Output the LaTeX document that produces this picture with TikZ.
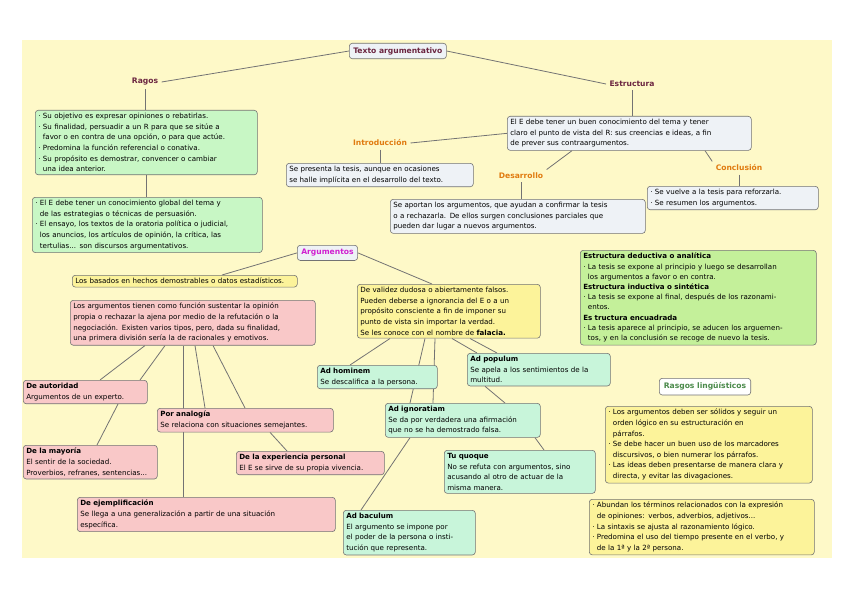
\documentclass[tikz,border=0pt]{standalone}
\usepackage{fontspec}
\setmainfont{DejaVu Sans}
\usetikzlibrary{calc,backgrounds}
\definecolor{bg}{HTML}{FEF9C8}
\definecolor{grn}{HTML}{C8F7C5}
\definecolor{blu}{HTML}{EEF2F6}
\definecolor{pnk}{HTML}{F9C8C8}
\definecolor{ylw}{HTML}{FCF39A}
\definecolor{sgrn}{HTML}{C4F09A}
\definecolor{mnt}{HTML}{C8F5DA}
\definecolor{ttl}{HTML}{6B2540}
\definecolor{org}{HTML}{E07B10}
\definecolor{mag}{HTML}{D020D0}
\definecolor{lgr}{HTML}{4A8A4A}
\begin{document}
\begin{tikzpicture}[x=1pt,y=-1pt,
  box/.style={draw=black!55, rounded corners=3pt, line width=0.6pt, inner sep=3pt, align=left, anchor=north west, font=\fontsize{7.1}{10.6}\selectfont},
  lbl/.style={font=\fontsize{7.6}{9}\selectfont\bfseries},
  ln/.style={draw=black!55, line width=0.8pt}]
\useasboundingbox (0,0) rectangle (848,599);
\node[box,fill=blu,font=\fontsize{7.6}{9}\selectfont\bfseries,text=ttl,inner sep=4pt] (title) at (349,43) {Texto argumentativo};
\node[lbl,text=ttl] (rasgos) at (145,82) {Ragos};
\node[lbl,text=ttl] (estr) at (632,84) {Estructura};
\node[box,fill=grn,text width=216pt] (r1) at (35,110) {· Su objetivo es expresar opiniones o rebatirlas.\\· Su finalidad, persuadir a un R para que se sitúe a\\\phantom{· }favor o en contra de una opción, o para que actúe.\\· Predomina la función referencial o conativa.\\· Su propósito es demostrar, convencer o cambiar\\\phantom{· }una idea anterior.};
\node[box,fill=grn,text width=224pt] (r2) at (32,197) {· El E debe tener un conocimiento global del tema y\\\phantom{· }de las estrategias o técnicas de persuasión.\\· El ensayo, los textos de la oratoria política o judicial,\\\phantom{· }los anuncios, los artículos de opinión, la crítica, las\\\phantom{· }tertulias... son discursos argumentativos.};
\node[box,fill=blu,text width=238pt] (ebox) at (507,116) {El E debe tener un buen conocimiento del tema y tener\\claro el punto de vista del R: sus creencias e ideas, a fin\\de prever sus contraargumentos.};
\node[lbl,text=org] (intro) at (380,143) {Introducción};
\node[box,fill=blu,text width=181pt] (ibox) at (286,163) {Se presenta la tesis, aunque en ocasiones\\se halle implícita en el desarrollo del texto.};
\node[lbl,text=org] (des) at (521,176) {Desarrollo};
\node[box,fill=blu,text width=249pt] (dbox) at (390,199) {Se aportan los argumentos, que ayudan a confirmar la tesis\\o a rechazarla. De ellos surgen conclusiones parciales que\\pueden dar lugar a nuevos argumentos.};
\node[lbl,text=org] (conc) at (739,168) {Conclusión};
\node[box,fill=blu,text width=165pt] (cbox) at (647,186) {· Se vuelve a la tesis para reforzarla.\\· Se resumen los argumentos.};
\node[box,fill=blu,font=\fontsize{7.6}{9}\selectfont\bfseries,text=mag,inner sep=4pt] (arg) at (297,245) {Argumentos};
\node[box,fill=ylw,text width=219pt] (basados) at (72,275) {Los basados en hechos demostrables o datos estadísticos.};
\node[box,fill=pnk,text width=239pt] (pink) at (70,300) {Los argumentos tienen como función sustentar la opinión\\propia o rechazar la ajena por medio de la refutación o la\\negociación. Existen varios tipos, pero, dada su finalidad,\\una primera división sería la de racionales y emotivos.};
\node[box,fill=ylw,text width=177pt] (fal) at (357,284) {De validez dudosa o abiertamente falsos.\\Pueden deberse a ignorancia del E o a un\\propósito consciente a fin de imponer su\\punto de vista sin importar la verdad.\\Se les conoce con el nombre de \textbf{falacia.}};
\node[box,fill=sgrn,text width=230pt,font=\fontsize{7.1}{10.2}\selectfont] (sg) at (580,250) {\textbf{Estructura deductiva o analítica}\\· La tesis se expone al principio y luego se desarrollan\\\phantom{· }los argumentos a favor o en contra.\\\textbf{Estructura inductiva o sintética}\\· La tesis se expone al final, después de los razonami-\\\phantom{· }entos.\\\textbf{Es tructura encuadrada}\\· La tesis aparece al principio, se aducen los arguemen-\\\phantom{· }tos, y en la conclusión se recoge de nuevo la tesis.};
\node[box,fill=white,font=\fontsize{7.6}{9}\selectfont\bfseries,text=lgr,inner sep=4.5pt] (ling) at (659,378) {Rasgos lingüísticos};
\node[box,fill=ylw,text width=201pt] (y1) at (605,406) {· Los argumentos deben ser sólidos y seguir un\\\phantom{· }orden lógico en su estructuración en\\\phantom{· }párrafos.\\· Se debe hacer un buen uso de los marcadores\\\phantom{· }discursivos, o bien numerar los párrafos.\\· Las ideas deben presentarse de manera clara y\\\phantom{· }directa, y evitar las divagaciones.};
\node[box,fill=ylw,text width=219pt] (y2) at (589,499) {· Abundan los términos relacionados con la expresión\\\phantom{· }de opiniones: verbos, adverbios, adjetivos...\\· La sintaxis se ajusta al razonamiento lógico.\\· Predomina el uso del tiempo presente en el verbo, y\\\phantom{· }de la 1ª y la 2ª persona.};
\node[box,fill=pnk,text width=118pt] (aut) at (23,380) {\textbf{De autoridad}\\Argumentos de un experto.};
\node[box,fill=pnk,text width=170pt] (anal) at (157,408) {\textbf{Por analogía}\\Se relaciona con situaciones semejantes.};
\node[box,fill=pnk,text width=128pt] (may) at (23,445) {\textbf{De la mayoría}\\El sentir de la sociedad.\\Proverbios, refranes, sentencias...};
\node[box,fill=pnk,text width=142pt] (exp) at (236,451) {\textbf{De la experiencia personal}\\El E se sirve de su propia vivencia.};
\node[box,fill=pnk,text width=252pt] (ejem) at (77,497) {\textbf{De ejemplificación}\\Se llega a una generalización a partir de una situación\\específica.};
\node[box,fill=mnt,text width=114pt] (hom) at (317,365) {\textbf{Ad hominem}\\Se descalifica a la persona.};
\node[box,fill=mnt,text width=137pt] (pop) at (467,353) {\textbf{Ad populum}\\Se apela a los sentimientos de la\\multitud.};
\node[box,fill=mnt,text width=149pt] (ign) at (385,403) {\textbf{Ad ignoratiam}\\Se da por verdadera una afirmación\\que no se ha demostrado falsa.};
\node[box,fill=mnt,text width=145pt] (tuq) at (444,450) {\textbf{Tu quoque}\\No se refuta con argumentos, sino\\acusando al otro de actuar de la\\misma manera.};
\node[box,fill=mnt,text width=126pt] (bac) at (343,510) {\textbf{Ad baculum}\\El argumento se impone por\\el poder de la persona o insti-\\tución que representa.};
\begin{scope}[on background layer]
\fill[bg] (22,40) rectangle (832,558);
\draw[ln] (title.west) -- (rasgos.east);
\draw[ln] (title.east) -- (estr.west);
\draw[ln] (rasgos.south) -- (rasgos.south |- r1.north);
\draw[ln] (r1.south) -- (r1.south |- r2.north);
\draw[ln] (estr.south) -- (estr.south |- ebox.north);
\draw[ln] (ebox.west) -- (intro.east);
\draw[ln] (intro.south) -- (intro.south |- ibox.north);
\draw[ln] ($(ebox.south west)+(65,0)$) -- (des.north east);
\draw[ln] (des.south) -- (des.south |- dbox.north);
\draw[ln] ($(ebox.south west)+(198,0)$) -- (conc.north west);
\draw[ln] (conc.south) -- (conc.south |- cbox.north);
\draw[ln] (arg.west) -- ($(basados.north west)+(150,0)$);
\draw[ln] (arg.east) -- ($(fal.north west)+(75,0)$);
\draw[ln] ($(pink.south west)+(75,0)$) -- ($(aut.north west)+(77,0)$);
\draw[ln] ($(pink.south west)+(95,0)$) -- ($(aut.north west)+(117,0)$);
\draw[ln] ($(aut.south west)+(95,0)$) -- ($(may.north west)+(74,0)$);
\draw[ln] ($(pink.south west)+(113,0)$) -- ($(ejem.north west)+(106,0)$);
\draw[ln] ($(pink.south west)+(125,0)$) -- ($(anal.north west)+(48,0)$);
\draw[ln] ($(pink.south west)+(143,0)$) -- ($(anal.north west)+(88,0)$);
\draw[ln] ($(anal.south west)+(113,0)$) -- ($(exp.north west)+(51,0)$);
\draw[ln] ($(fal.south west)+(33,0)$) -- ($(hom.north west)+(33,0)$);
\draw[ln] ($(fal.south west)+(68,0)$) -- ($(ign.north west)+(25,0)$);
\draw[ln] ($(fal.south west)+(78,0)$) -- ($(ign.north west)+(48,0)$);
\draw[ln] ($(fal.south west)+(95,0)$) -- ($(pop.north west)+(10,0)$);
\draw[ln] ($(fal.south west)+(113,0)$) -- ($(pop.north west)+(30,0)$);
\draw[ln] ($(pop.south west)+(18,0)$) -- ($(ign.north west)+(120,0)$);
\draw[ln] ($(ign.south west)+(150,0)$) -- ($(tuq.north west)+(100,0)$);
\draw[ln] ($(ign.south west)+(25,0)$) -- ($(bac.north west)+(18,0)$);
\end{scope}
\end{tikzpicture}
\end{document}
